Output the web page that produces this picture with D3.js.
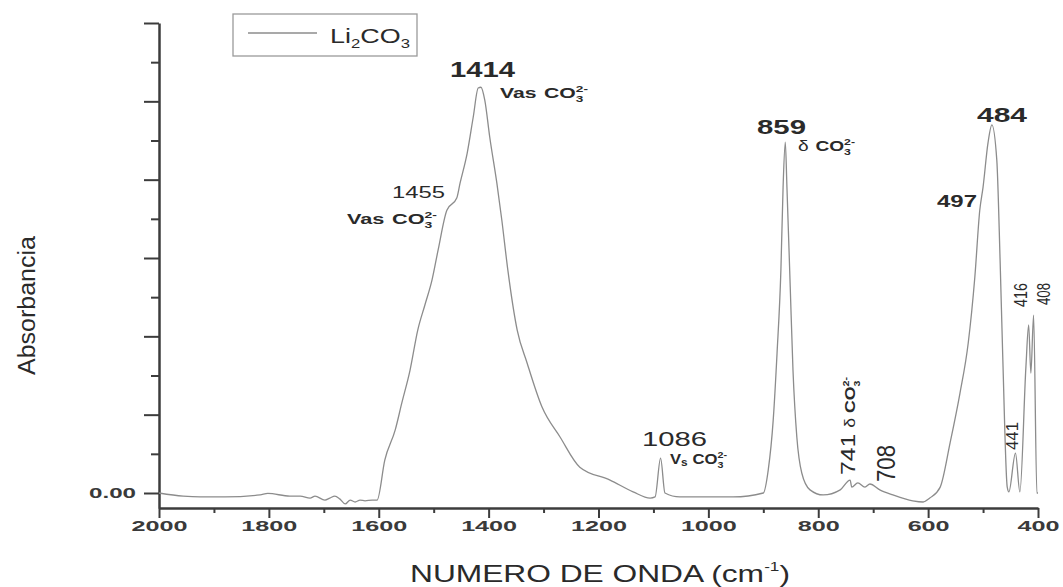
<!DOCTYPE html>
<html>
<head>
<meta charset="utf-8">
<script src="https://cdn.jsdelivr.net/npm/d3@7"></script>
<style>
  html, body { margin: 0; padding: 0; background: #fff; }
  svg { display: block; font-family: "Liberation Sans", Arial, sans-serif; }
</style>
</head>
<body>
<svg id="chart" width="1063" height="587"></svg>
<script>
// ---------- data ----------
const wavenumber = [2000,1956,1925,1880,1816,1802,1762,1743,1725,1716,1698,1689,1680,1671,1661,1652,1643,1634,1625,1612,1603,
  1589,1570,1558,1543,1529,1516,1503,1492,1476,1458,1452,1439,1428,1419,1414,1407,1398,1385,1376,1365,1348,1330,1303,1270,1234,1179,1137,1106,1097,
  1087,1079,1052,955,900,891,882,875,868,864,860,857,851,846,839,830,815,791,760,742,739,728,715,706,688,664,628,609,597,578,
  560,542,527,515,506,500,491,484,475,469,464,456,453,441,433,422,417,413,408,402,400];
const absorbance = [0.0000,-0.0008,-0.0010,-0.0010,-0.0005,-0.0001,-0.0008,-0.0008,-0.0013,-0.0008,-0.0018,-0.0013,-0.0008,-0.0015,-0.0028,-0.0018,-0.0023,-0.0018,-0.0020,-0.0018,-0.0018,
  0.0084,0.0161,0.0230,0.0314,0.0416,0.0480,0.0544,0.0620,0.0722,0.0753,0.0791,0.0868,0.0960,0.1034,0.1036,0.1003,0.0909,0.0791,0.0697,0.0569,0.0416,0.0332,0.0220,0.0143,0.0066,0.0033,0.0003,-0.0013,-0.0010,
  0.0089,0.0000,-0.0010,-0.0010,0.0000,0.0059,0.0186,0.0357,0.0569,0.0781,0.0896,0.0781,0.0526,0.0314,0.0143,0.0051,0.0008,-0.0005,0.0008,0.0033,0.0015,0.0026,0.0015,0.0023,0.0008,-0.0005,-0.0020,-0.0023,-0.0013,0.0015,
  0.0128,0.0255,0.0383,0.0551,0.0722,0.0781,0.0894,0.0940,0.0850,0.0595,0.0340,0.0015,0.0003,0.0102,0.0003,0.0322,0.0429,0.0306,0.0454,0.0000,0.0000];

const xMajorTicks = [2000,1800,1600,1400,1200,1000,800,600,400];
const xMinorTicks = [1900,1700,1500,1300,1100,900,700,500];
const yMajorTicks = [0,0.02,0.04,0.06,0.08,0.10,0.12];
const yMinorTicks = [0.01,0.03,0.05,0.07,0.09,0.11];
const yTickLabels = ["0.00","","","","","",""];
const seriesName = ["Li","2","CO","3"];
const xTitle = ["NUMERO DE ONDA (cm","-1",")"];
const yTitle = "Absorbancia";

// ---------- layout ----------
const svg = d3.select("#chart");
const x = d3.scaleLinear().domain([2000,400]).range([159,1038]);
const y = d3.scaleLinear().domain([-0.00383,0.12]).range([508,23]);
const axisColor = "#3c3c3c";
const textColor = "#2a2a2a";

// minor ticks
svg.append("g").attr("transform","translate(0,508)")
  .call(d3.axisBottom(x).tickValues(xMinorTicks).tickSize(5).tickFormat(""))
  .call(g => g.select(".domain").remove());
svg.append("g").attr("transform","translate(159,0)")
  .call(d3.axisLeft(y).tickValues(yMinorTicks).tickSize(8).tickFormat(""))
  .call(g => g.select(".domain").remove());

// major axes
const gx = svg.append("g").attr("transform","translate(0,508)")
  .call(d3.axisBottom(x).tickValues(xMajorTicks).tickSize(10).tickSizeOuter(0).tickPadding(2).tickFormat(d3.format("d")));
const gy = svg.append("g").attr("transform","translate(159,0)")
  .call(d3.axisLeft(y).tickValues(yMajorTicks).tickSize(15).tickSizeOuter(0).tickPadding(8)
    .tickFormat((d,i) => yTickLabels[i]));

svg.selectAll(".tick line").attr("stroke", axisColor).attr("stroke-width", 2);
svg.selectAll(".domain").attr("stroke", axisColor).attr("stroke-width", 2.5);
[gx, gy].forEach(g => g.selectAll(".tick text")
  .attr("fill", "#3a3a3a").style("font-size","15px").style("font-weight","bold")
  .style("font-family", '"Liberation Sans", Arial, sans-serif')
  .each(function(){ const t = this.textContent; if (t) { d3.select(this).attr("textLength", t.length*14 - (t.includes(".")?9:0)).attr("lengthAdjust","spacingAndGlyphs"); } }));

// spectrum line
const pts = wavenumber.map((w,i) => [w, absorbance[i]]);
svg.append("path").datum(pts)
  .attr("fill","none").attr("stroke","#8c8c8c").attr("stroke-width",1.3).attr("stroke-linejoin","round")
  .attr("d", d3.line().curve(d3.curveMonotoneX).x(d => x(d[0])).y(d => y(d[1])));

// ---------- label helper ----------
function drawLabel(spec) {
  const g = svg.append("g").attr("transform", `translate(${spec.x},${spec.y})`);
  const inner = g.append("g");
  let cx = 0;
  spec.parts.forEach(p => {
    if (p.gap) { cx += p.gap; return; }
    const mk = (txt, yy, fs, b) => inner.append("text").attr("x", cx).attr("y", yy)
      .attr("fill", spec.color || textColor).style("font-size", fs + "px")
      .style("font-weight", b ? "bold" : "normal").text(txt);
    if (p.sup !== undefined) {
      const a = mk(p.sup, -p.up, p.fs, p.b);
      const b = mk(p.sub, p.down, p.fs, p.b);
      cx += Math.max(a.node().getComputedTextLength(), b.node().getComputedTextLength());
    } else {
      const t = mk(p.t, p.dy || 0, p.fs, p.b);
      cx += t.node().getComputedTextLength();
    }
  });
  const sx = spec.len / cx;
  if (spec.rot) inner.attr("transform", `rotate(-90) scale(${sx},${spec.sy || 1})`);
  else inner.attr("transform", `scale(${sx},${spec.sy || 1})`);
}
const co3 = (fs, b) => [{t:"CO", fs:fs, b:b}, {sup:"2-", sub:"3", fs:Math.round(fs*0.62), up:Math.round(fs*0.4), down:Math.round(fs*0.3), b:b}];

// peak annotations
const labels = [
  {x:450, y:77,  len:65, parts:[{t:"1414", fs:22, b:1}]},
  {x:500, y:98,  len:88, parts:[{t:"Vas", fs:14, b:1},{gap:5}, ...co3(14,1)]},
  {x:392, y:198, len:53, parts:[{t:"1455", fs:17}]},
  {x:347, y:224, len:90, parts:[{t:"Vas", fs:14, b:1},{gap:5}, ...co3(14,1)]},
  {x:642, y:446, len:65, parts:[{t:"1086", fs:21}]},
  {x:670, y:464, len:57, parts:[{t:"V", fs:14, b:1},{t:"s", fs:10, dy:2, b:1},{gap:4}, ...co3(14,1)]},
  {x:757, y:134, len:49, parts:[{t:"859", fs:21, b:1}]},
  {x:798, y:151, len:57, parts:[{t:"δ", fs:14},{gap:5}, ...co3(14,1)]},
  {x:977, y:122, len:50, parts:[{t:"484", fs:21, b:1}]},
  {x:937, y:207, len:40, parts:[{t:"497", fs:17, b:1}]},
  {x:855, y:475, len:98, rot:1, parts:[{t:"741", fs:21},{gap:5},{t:"δ", fs:15},{gap:4}, ...co3(15,1)]},
  {x:895, y:482, len:37, rot:1, sy:1.2, parts:[{t:"708", fs:22}]},
  {x:1027, y:307, len:24, rot:1, sy:1.3, parts:[{t:"416", fs:14.5}]},
  {x:1050, y:305, len:22, rot:1, sy:1.3, parts:[{t:"408", fs:14}]},
  {x:1018, y:450, len:28, rot:1, parts:[{t:"441", fs:17}]}
];
labels.forEach(drawLabel);

// legend
svg.append("rect").attr("x",233).attr("y",14).attr("width",184).attr("height",42)
  .attr("fill","#fff").attr("stroke","#9a9a9a").attr("stroke-width",1.3);
svg.append("line").attr("x1",248).attr("x2",317).attr("y1",33).attr("y2",33)
  .attr("stroke","#8c8c8c").attr("stroke-width",1.3);
drawLabel({x:330, y:43, len:80, parts:[{t:seriesName[0], fs:21},{t:seriesName[1], fs:13, dy:5},{t:seriesName[2], fs:21},{t:seriesName[3], fs:13, dy:5}]});

// axis titles
drawLabel({x:410, y:582, len:380, parts:[{t:xTitle[0], fs:24},{t:xTitle[1], fs:13, dy:-11},{t:xTitle[2], fs:24}]});
drawLabel({x:35, y:375, len:139, rot:1, parts:[{t:yTitle, fs:24}]});
</script>
</body>
</html>
